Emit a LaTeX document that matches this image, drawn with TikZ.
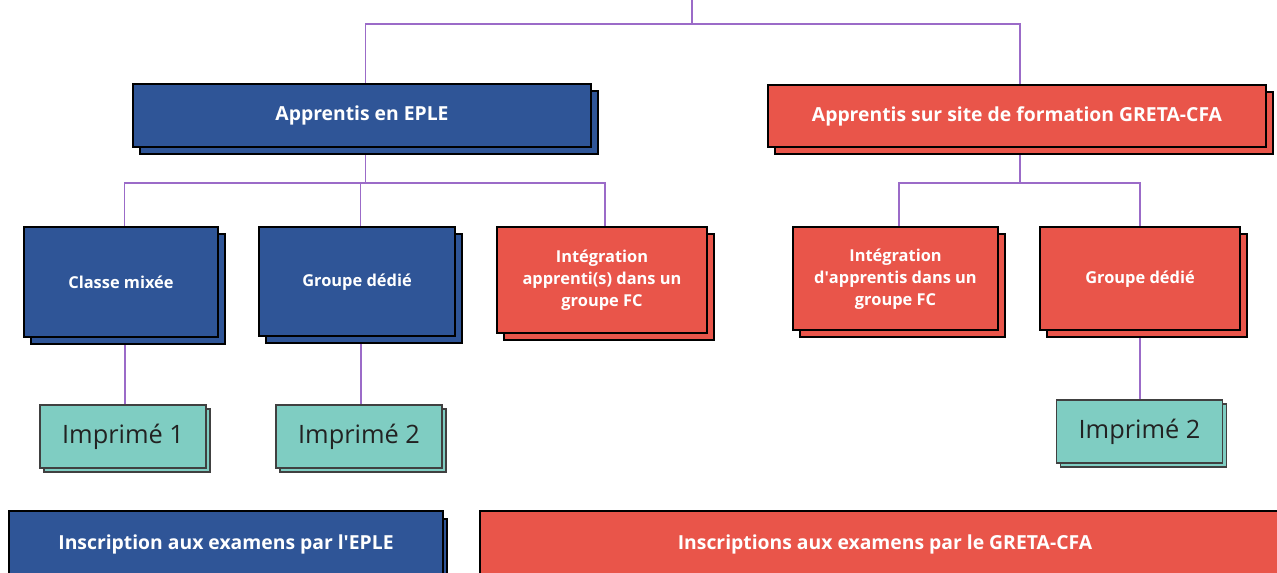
\documentclass[tikz,border=0pt]{standalone}
\usepackage{fontspec}
\setmainfont{Open Sans}
\usetikzlibrary{shadows,backgrounds}
\definecolor{eblue}{HTML}{2F5597}
\definecolor{ered}{HTML}{E9554A}
\definecolor{eteal}{HTML}{7FCDC2}
\definecolor{epurple}{HTML}{9B6BC8}
\definecolor{etext}{HTML}{222222}
\tikzset{
  bigbox/.style={draw=black, line width=1.5pt, align=center, text=white, inner sep=0pt,
    font=\bfseries\fontsize{14.5}{17}\selectfont,
    copy shadow={shadow xshift=7*0.75pt, shadow yshift=-7*0.75pt}},
  smallbox/.style={draw=black, line width=1.5pt, align=center, text=white, inner sep=0pt,
    font=\bfseries\fontsize{12.3}{16.5}\selectfont,
    copy shadow={shadow xshift=7*0.75pt, shadow yshift=-7*0.75pt}},
  imbox/.style={draw=black!75, line width=0.8pt, fill=eteal, text=etext, inner sep=0pt,
    minimum width=166*0.75pt, minimum height=63*0.75pt,
    font=\fontsize{19}{22}\selectfont,
    copy shadow={shadow xshift=4*0.75pt, shadow yshift=-4*0.75pt}},
  exbox/.style={draw=black, line width=1.5pt, text=white, inner sep=0pt,
    font=\bfseries\fontsize{14.5}{17}\selectfont,
    copy shadow={shadow xshift=4*0.75pt, shadow yshift=-8*0.75pt}},
  conn/.style={draw=epurple, line width=1.1pt},
}
\begin{document}
\begin{tikzpicture}[x=0.75pt,y=-0.75pt]
\useasboundingbox (0,0) rectangle (1277,573);
% top level
\node[bigbox, fill=eblue, minimum width=458*0.75pt, minimum height=63*0.75pt] (ep) at (362,115.5) {Apprentis en EPLE};
\node[bigbox, fill=ered, minimum width=498*0.75pt, minimum height=62*0.75pt] (gr) at (1017,116) {Apprentis sur site de formation GRETA-CFA};
% children left
\node[smallbox, fill=eblue, minimum width=194*0.75pt, minimum height=110*0.75pt] (cm) at (121,282) {Classe mixée};
\node[smallbox, fill=eblue, minimum width=196*0.75pt, minimum height=109*0.75pt] (gd1) at (357,282) {Groupe dédié};
\node[smallbox, fill=ered, minimum width=210*0.75pt, minimum height=106*0.75pt] (ia) at (602,280.5) {Intégration\\apprenti(s) dans un\\groupe FC};
% children right
\node[smallbox, fill=ered, minimum width=205*0.75pt, minimum height=103*0.75pt] (id) at (895.5,279) {Intégration\\d\textquotesingle apprentis dans un\\groupe FC};
\node[smallbox, fill=ered, minimum width=200*0.75pt, minimum height=103*0.75pt] (gd2) at (1140,279) {Groupe dédié};
% imprimés
\node[imbox] (im1) at (123,436.5) {Imprimé 1};
\node[imbox] (im2) at (359,436.5) {Imprimé 2};
\node[imbox] (im3) at (1139.5,431.5) {Imprimé 2};
% bottom
\node[exbox, fill=eblue, minimum width=434*0.75pt, minimum height=66*0.75pt] (ex1) at (226,544) {Inscription aux examens par l\textquotesingle EPLE};
\node[exbox, fill=ered, minimum width=810*0.75pt, minimum height=66*0.75pt] (ex2) at (885,544) {Inscriptions aux examens par le GRETA-CFA};
% connectors
\begin{pgfonlayer}{background}
\coordinate (top) at (692,0);
\coordinate (j0) at (692,24);
\coordinate (j1) at (365,183);
\coordinate (j2) at (1020,183);
\draw[conn] (top) -- (j0);
\draw[conn] ([xshift=2.6pt]ep.north) |- (j0) -| ([xshift=2.3pt]gr.north);
\draw[conn] ([xshift=2.6pt]ep.south) -- ([xshift=2.6pt]ep.south |- j1);
\draw[conn] ([xshift=2.6pt]cm.north) |- (j1) -| ([xshift=2.3pt]ia.north);
\draw[conn] ([xshift=2.6pt]gd1.north) -- ([xshift=2.6pt]gd1.north |- j1);
\draw[conn] ([xshift=2.3pt]gr.south) -- ([xshift=2.3pt]gr.south |- j2);
\draw[conn] ([xshift=2.6pt]id.north) |- (j2) -| ([xshift=0pt]gd2.north);
\draw[conn] ([xshift=3pt]cm.south) -- ([xshift=3pt]cm.south |- im1.north);
\draw[conn] ([xshift=3pt]gd1.south) -- ([xshift=3pt]gd1.south |- im2.north);
\draw[conn] (gd2.south) -- (gd2.south |- im3.north);
\end{pgfonlayer}
\end{tikzpicture}
\end{document}
